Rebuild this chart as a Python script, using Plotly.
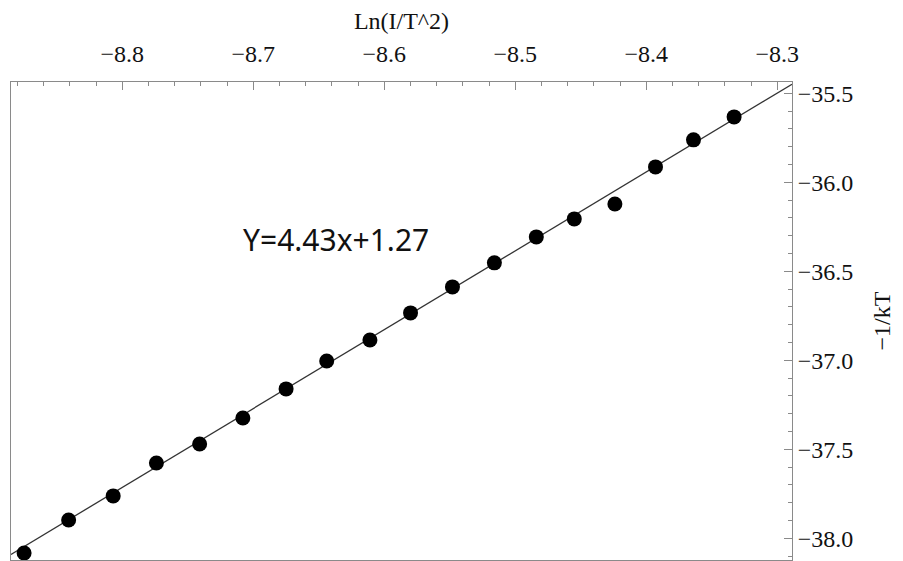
import plotly.graph_objects as go

# Data
ln_i_t2 = [-8.875, -8.841, -8.807, -8.774, -8.741, -8.708, -8.675, -8.644, -8.611,
           -8.580, -8.548, -8.516, -8.484, -8.455, -8.424, -8.393, -8.364, -8.333]
neg_inv_kT = [-38.083, -37.897, -37.762, -37.577, -37.470, -37.324, -37.161, -37.004, -36.886,
              -36.734, -36.588, -36.453, -36.307, -36.206, -36.122, -35.914, -35.762, -35.633]
fit_slope = 4.43
fit_intercept = 1.27
x_range = [-8.885, -8.2888]
y_range = [-38.122, -35.437]
x_ticks = [-8.8, -8.7, -8.6, -8.5, -8.4, -8.3]
y_ticks = [-35.5, -36.0, -36.5, -37.0, -37.5, -38.0]

fit_x = x_range
fit_y = [fit_slope * v + fit_intercept for v in fit_x]

fig = go.Figure()
fig.add_trace(go.Scatter(x=fit_x, y=fit_y, mode="lines",
                         line=dict(color="#333333", width=1.3), hoverinfo="skip",
                         showlegend=False, cliponaxis=True))
fig.add_trace(go.Scatter(x=ln_i_t2, y=neg_inv_kT, mode="markers",
                         marker=dict(color="black", size=15), showlegend=False))

axis_font = dict(family="Liberation Serif", size=24, color="#111111")

fig.update_layout(
    width=903, height=561,
    margin=dict(l=3, r=119, t=74, b=9, autoexpand=False),
    paper_bgcolor="white", plot_bgcolor="white",
    xaxis=dict(side="top", range=x_range, tickvals=x_ticks,
               ticktext=["\u22128.8", "\u22128.7", "\u22128.6", "\u22128.5", "\u22128.4", "\u22128.3"],
               ticks="inside", ticklen=8, tickcolor="#8a8a8a", tickwidth=1,
               ticklabelstandoff=9,
               minor=dict(dtick=0.02, tick0=-8.8, ticks="inside", ticklen=4, tickcolor="#8a8a8a"),
               showline=True, linecolor="#8a8a8a", linewidth=1, mirror=True,
               showgrid=False, zeroline=False, tickfont=axis_font,
               title=dict(text="Ln(I/T^2)", font=axis_font, standoff=6)),
    yaxis=dict(side="right", range=y_range, tickvals=y_ticks,
               ticktext=["\u221235.5", "\u221236.0", "\u221236.5", "\u221237.0", "\u221237.5", "\u221238.0"],
               ticks="inside", ticklen=8, tickcolor="#8a8a8a", tickwidth=1,
               minor=dict(dtick=0.1, tick0=-38.0, ticks="inside", ticklen=4, tickcolor="#8a8a8a"),
               showline=True, linecolor="#8a8a8a", linewidth=1, mirror=True,
               showgrid=False, zeroline=False, tickfont=axis_font,
               title=dict(text="\u22121/kT", font=axis_font, standoff=20)),
    annotations=[dict(x=-8.637, y=-36.324, xref="x", yref="y", text="Y=4.43x+1.27",
                      showarrow=False, font=dict(family="Noto Sans", size=30, color="#111111"))],
)

fig.write_html("out.html")
